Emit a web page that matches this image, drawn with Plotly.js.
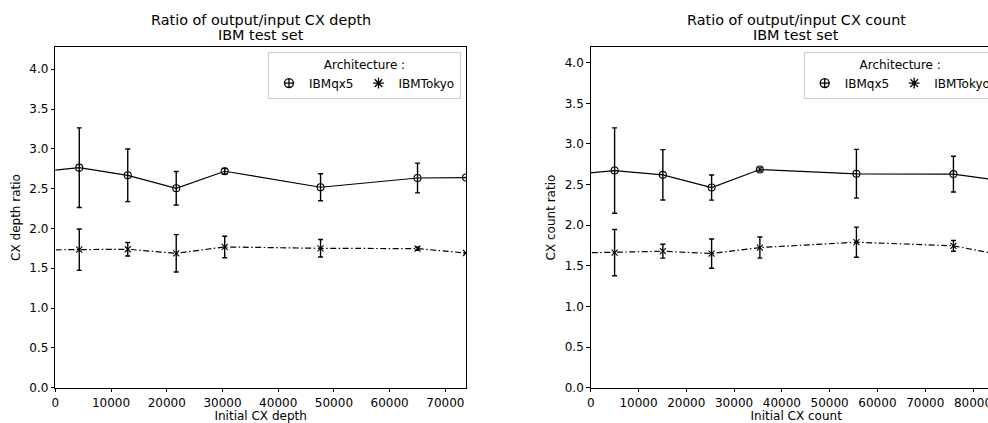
<!DOCTYPE html>
<html>
<head>
<meta charset="utf-8">
<script src="https://cdn.plot.ly/plotly-3.0.1.min.js"></script>
<style>
html,body{margin:0;padding:0;overflow:hidden;background:#fff;width:988px;height:423px;}
#chart{width:1040px;height:423px;}
</style>
</head>
<body>
<div id="chart"></div>
<script>
// ---- Data ----
var depthX        = [-4400, 4300, 13000, 21700, 30400, 47600, 65000, 73700];
var depthQx5      = [2.70, 2.764, 2.668, 2.505, 2.719, 2.518, 2.634, 2.64];
var depthQx5Err   = [0, 0.50, 0.33, 0.21, 0.035, 0.17, 0.187, 0];
var depthTokyo    = [1.73, 1.734, 1.739, 1.688, 1.768, 1.751, 1.747, 1.692];
var depthTokyoErr = [0, 0.26, 0.085, 0.235, 0.135, 0.11, 0.02, 0];

var countX        = [-5000, 5000, 15100, 25300, 35400, 55600, 75900, 86000];
var countQx5      = [2.615, 2.673, 2.62, 2.464, 2.686, 2.633, 2.629, 2.548];
var countQx5Err   = [0, 0.525, 0.31, 0.155, 0.02, 0.30, 0.22, 0];
var countTokyo    = [1.655, 1.663, 1.68, 1.651, 1.725, 1.791, 1.746, 1.633];
var countTokyoErr = [0, 0.285, 0.085, 0.18, 0.13, 0.185, 0.066, 0];

var seriesNames = ["IBMqx5", "IBMTokyo"];
var yTicks = [0, 0.5, 1.0, 1.5, 2.0, 2.5, 3.0, 3.5, 4.0];
var titleLine1 = ["Ratio of output/input CX depth", "Ratio of output/input CX count"];
var titleLine2 = "IBM test set";

// ---- Layout geometry ----
var W = 1040, H = 423;
var FONT = "DejaVu Sans, sans-serif";
var FS = 12;
function px(x){ return x / W; }
function py(y){ return (H - y) / H; }

function mkTrace(x, y, err, name, xa, ya, isQx5){
  return {
    x: x, y: y, type: "scatter", mode: "lines+markers", name: name,
    xaxis: xa, yaxis: ya, showlegend: false, cliponaxis: true,
    line: {color: "black", width: 1.2, dash: isQx5 ? "solid" : "6px,2.5px,1.5px,2.5px"},
    marker: {symbol: isQx5 ? "circle-open" : "x-thin-open", size: isQx5 ? 7 : 6,
             color: "black", line: {color: "black", width: 1.1}},
    error_y: {type: "data", array: err, visible: true, color: "black", thickness: 1.4, width: 2.5}
  };
}
// legend-only entries (marker + errorbar style icon, as in the reference legend)
function mkLegend(name, xa, ya, leg, isQx5){
  return {
    x: [null], y: [null], type: "scatter", mode: "markers", name: name,
    xaxis: xa, yaxis: ya, legend: leg, showlegend: true,
    marker: {symbol: isQx5 ? "circle-cross-open" : "asterisk-open", size: 9,
             color: "black", line: {color: "black", width: 1.3}}
  };
}

var data = [
  mkTrace(depthX, depthQx5, depthQx5Err, seriesNames[0], "x", "y", true),
  mkTrace(depthX, depthTokyo, depthTokyoErr, seriesNames[1], "x", "y", false),
  mkTrace(countX, countQx5, countQx5Err, seriesNames[0], "x2", "y2", true),
  mkTrace(countX, countTokyo, countTokyoErr, seriesNames[1], "x2", "y2", false),
  mkLegend(seriesNames[0], "x", "y", "legend", true),
  mkLegend(seriesNames[1], "x", "y", "legend", false),
  mkLegend(seriesNames[0], "x2", "y2", "legend2", true),
  mkLegend(seriesNames[1], "x2", "y2", "legend2", false)
];

function xAxis(domain, range, title, anchor){
  return {
    domain: domain, range: range, anchor: anchor,
    showline: true, mirror: true, linecolor: "black", linewidth: 1,
    ticks: "outside", ticklen: 3.5, tickcolor: "black", tickwidth: 1,
    tick0: 0, dtick: 10000, tickformat: "d",
    showgrid: false, zeroline: false,
    tickfont: {family: FONT, size: FS, color: "black"},
    title: {text: title, font: {family: FONT, size: FS, color: "black"}, standoff: 4}
  };
}
function yAxis(domain, range, title, anchor){
  return {
    domain: domain, range: range, anchor: anchor,
    showline: true, mirror: true, linecolor: "black", linewidth: 1,
    ticks: "outside", ticklen: 3.5, tickcolor: "black", tickwidth: 1,
    tickmode: "array", tickvals: yTicks, tickformat: ".1f",
    showgrid: false, zeroline: false,
    tickfont: {family: FONT, size: FS, color: "black"},
    title: {text: title, font: {family: FONT, size: FS, color: "black"}, standoff: 6}
  };
}

function legendCfg(xRight){
  return {
    x: xRight, xanchor: "right", y: py(52), yanchor: "top",
    orientation: "h", bgcolor: "white", bordercolor: "#cccccc", borderwidth: 1,
    font: {family: FONT, size: FS, color: "black"},
    title: {text: "Architecture :", side: "top center", font: {family: FONT, size: FS, color: "black"}},
    itemwidth: 30, tracegroupgap: 0
  };
}

function titleAnn(text, xc, yc){
  return {text: text, x: px(xc), y: py(yc), xref: "paper", yref: "paper",
          xanchor: "center", yanchor: "middle", showarrow: false,
          font: {family: FONT, size: 14.4, color: "black"}};
}

var yDom = [py(387.7), py(47.3)];
var layout = {
  width: W, height: H,
  margin: {l: 0, r: 0, t: 0, b: 0},
  paper_bgcolor: "white", plot_bgcolor: "white",
  font: {family: FONT, size: FS, color: "black"},
  xaxis: xAxis([px(55.3), px(466)], [0, 73700], "Initial CX depth", "y"),
  yaxis: yAxis(yDom, [0, 4.276], "CX depth ratio", "x"),
  xaxis2: xAxis([px(590.7), px(1001.7)], [0, 86000], "Initial CX count", "y2"),
  yaxis2: yAxis(yDom, [0, 4.19], "CX count ratio", "x2"),
  legend: legendCfg(px(461)),
  legend2: legendCfg(px(996.7)),
  showlegend: true,
  annotations: [
    titleAnn(titleLine1[0], 260.7, 20),
    titleAnn(titleLine2, 260.7, 35.5),
    titleAnn(titleLine1[1], 796.2, 20),
    titleAnn(titleLine2, 796.2, 35.5)
  ]
};

Plotly.newPlot("chart", data, layout, {staticPlot: true, displayModeBar: false});
</script>
</body>
</html>
